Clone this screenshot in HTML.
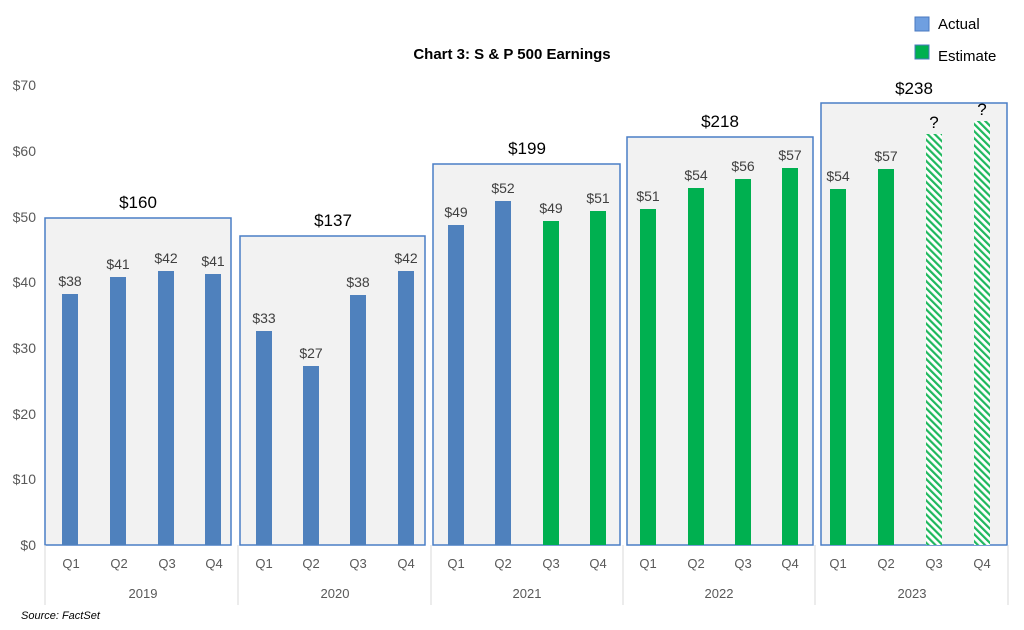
<!DOCTYPE html>
<html><head><meta charset="utf-8"><style>
body{margin:0;background:#fff}
svg{display:block;font-family:"Liberation Sans",Arial,sans-serif}
</style></head><body>
<svg width="1024" height="630" viewBox="0 0 1024 630">
<defs>
<pattern id="h" width="5" height="5" patternUnits="userSpaceOnUse" patternTransform="rotate(-45)">
<rect width="5" height="5" fill="#fff"/><rect width="2.2" height="5" fill="#1fb85e"/>
</pattern>
</defs>
<text x="512" y="59" text-anchor="middle" font-size="15" font-weight="bold" fill="#000">Chart 3: S &amp; P 500 Earnings</text>
<rect x="915" y="17" width="14" height="14" fill="#6f9fe0" stroke="#4a78c0"/>
<text x="938" y="29" font-size="15" fill="#000">Actual</text>
<rect x="915" y="45" width="14" height="14" fill="#00b050" stroke="#4a78c0"/>
<text x="938" y="61" font-size="15" fill="#000">Estimate</text>
<g font-size="14" fill="#595959" text-anchor="end">
<text x="36" y="550">$0</text><text x="36" y="484">$10</text><text x="36" y="419">$20</text>
<text x="36" y="353">$30</text><text x="36" y="287">$40</text><text x="36" y="222">$50</text>
<text x="36" y="156">$60</text><text x="36" y="90">$70</text>
</g>
<g fill="#f2f2f2" stroke="#4a7ec6" stroke-width="1.5">
<rect x="45" y="218" width="186" height="327"/>
<rect x="240" y="236" width="185" height="309"/>
<rect x="433" y="164" width="187" height="381"/>
<rect x="627" y="137" width="186" height="408"/>
<rect x="821" y="103" width="186" height="442"/>
</g>
<g font-size="17" fill="#000" text-anchor="middle">
<text x="138" y="208">$160</text><text x="333" y="226">$137</text>
<text x="527" y="154">$199</text><text x="720" y="127">$218</text><text x="914" y="94">$238</text>
</g>
<g fill="#4f81bd">
<rect x="62" y="294" width="16" height="251"/><rect x="110" y="277" width="16" height="268"/>
<rect x="158" y="271" width="16" height="274"/><rect x="205" y="274" width="16" height="271"/>
<rect x="256" y="331" width="16" height="214"/><rect x="303" y="366" width="16" height="179"/>
<rect x="350" y="295" width="16" height="250"/><rect x="398" y="271" width="16" height="274"/>
<rect x="448" y="225" width="16" height="320"/><rect x="495" y="201" width="16" height="344"/>
</g>
<g fill="#00b050">
<rect x="543" y="221" width="16" height="324"/><rect x="590" y="211" width="16" height="334"/>
<rect x="640" y="209" width="16" height="336"/><rect x="688" y="188" width="16" height="357"/>
<rect x="735" y="179" width="16" height="366"/><rect x="782" y="168" width="16" height="377"/>
<rect x="830" y="189" width="16" height="356"/><rect x="878" y="169" width="16" height="376"/>
</g>
<rect x="926" y="134" width="16" height="411" fill="url(#h)"/>
<rect x="974" y="121" width="16" height="424" fill="url(#h)"/>
<g font-size="14" fill="#404040" text-anchor="middle">
<text x="70" y="286">$38</text><text x="118" y="269">$41</text><text x="166" y="263">$42</text><text x="213" y="266">$41</text>
<text x="264" y="323">$33</text><text x="311" y="358">$27</text><text x="358" y="287">$38</text><text x="406" y="263">$42</text>
<text x="456" y="217">$49</text><text x="503" y="193">$52</text><text x="551" y="213">$49</text><text x="598" y="203">$51</text>
<text x="648" y="201">$51</text><text x="696" y="180">$54</text><text x="743" y="171">$56</text><text x="790" y="160">$57</text>
<text x="838" y="181">$54</text><text x="886" y="161">$57</text>
</g>
<g font-size="17" fill="#000" text-anchor="middle"><text x="934" y="128">?</text><text x="982" y="115">?</text></g>
<g stroke="#d9d9d9" stroke-width="1">
<line x1="45" y1="545" x2="45" y2="605"/><line x1="238" y1="545" x2="238" y2="605"/>
<line x1="431" y1="545" x2="431" y2="605"/><line x1="623" y1="545" x2="623" y2="605"/>
<line x1="815" y1="545" x2="815" y2="605"/><line x1="1008" y1="545" x2="1008" y2="605"/>
</g>
<g font-size="13" fill="#595959" text-anchor="middle">
<text x="71" y="568">Q1</text><text x="119" y="568">Q2</text><text x="167" y="568">Q3</text><text x="214" y="568">Q4</text>
<text x="264" y="568">Q1</text><text x="311" y="568">Q2</text><text x="358" y="568">Q3</text><text x="406" y="568">Q4</text>
<text x="456" y="568">Q1</text><text x="503" y="568">Q2</text><text x="551" y="568">Q3</text><text x="598" y="568">Q4</text>
<text x="648" y="568">Q1</text><text x="696" y="568">Q2</text><text x="743" y="568">Q3</text><text x="790" y="568">Q4</text>
<text x="838" y="568">Q1</text><text x="886" y="568">Q2</text><text x="934" y="568">Q3</text><text x="982" y="568">Q4</text>
<text x="143" y="598">2019</text><text x="335" y="598">2020</text><text x="527" y="598">2021</text>
<text x="719" y="598">2022</text><text x="912" y="598">2023</text>
</g>
<text x="21" y="619" font-size="11" font-style="italic" fill="#000">Source: FactSet</text>
</svg>
</body></html>
